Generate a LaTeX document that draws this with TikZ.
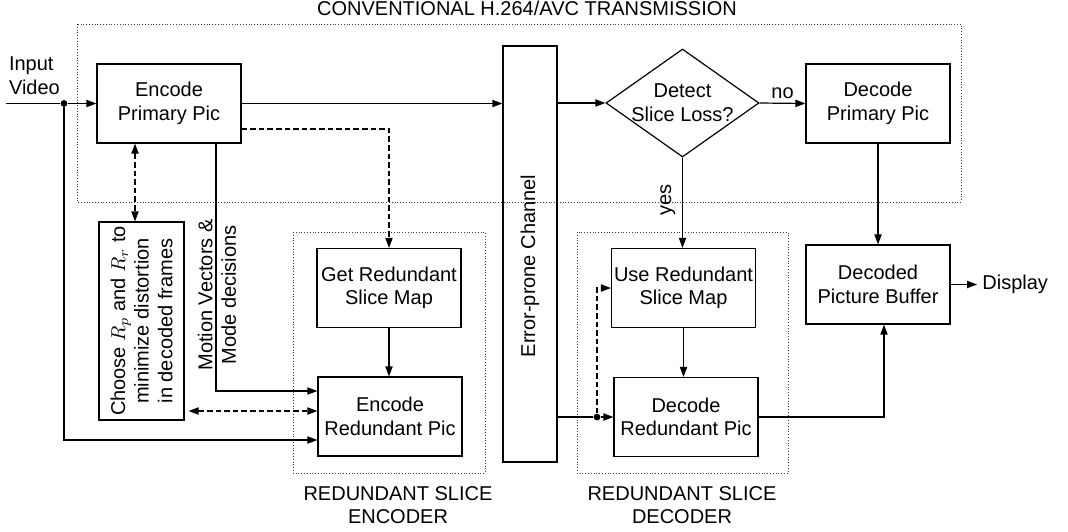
\documentclass[tikz,border=0pt]{standalone}
\usepackage{fontspec}
\setmainfont{Liberation Sans}
\usepackage{amsmath}
\usetikzlibrary{shapes.geometric,arrows.meta}

\tikzstyle{block}=[
	draw=black,
	shape=rectangle,
	line width=0.6pt,
	minimum width=72pt,
	minimum height=39.5pt,
	align=center,
	inner sep=0pt
]
\tikzstyle{decision}=[
	draw=black,
	shape=diamond,
	line width=0.6pt,
	minimum width=76.5pt,
	minimum height=54pt,
	align=center,
	inner sep=-4pt
]
\tikzstyle{junction}=[
	shape=circle,
	fill=black,
	minimum size=3.4pt,
	inner sep=0pt
]
\tikzstyle{group} = [draw=black!75,densely dotted,line width=0.4pt]
\tikzstyle{wire} = [draw,line width=0.6pt]
\tikzstyle{flow} = [wire,-{Triangle[length=5pt,width=3.6pt]}]
\tikzstyle{dashflow} = [flow,dash pattern=on 2.8pt off 1.5pt]
\tikzstyle{dashboth} = [dashflow,{Triangle[length=5pt,width=3.6pt]}-{Triangle[length=5pt,width=3.6pt]}]

\begin{document}
\begin{tikzpicture}[x=0.5pt,y=-0.5pt,font=\fontsize{10}{11.8}\selectfont]

	\useasboundingbox (0,0) rectangle (1068,531);

	% dotted groups
	\draw[group] (77,24) rectangle (961,202);
	\draw[group] (293,232) rectangle (485,473);
	\draw[group] (577,232) rectangle (788,473);
	\node[anchor=base] (conv) at (527,15) {CONVENTIONAL H.264/AVC TRANSMISSION};
	\node[align=center] (rsenc) at (398,505) {REDUNDANT SLICE\\ENCODER};
	\node[align=center] (rsdec) at (682,505) {REDUNDANT SLICE\\DECODER};

	% blocks
	\node[block]	(EncPri)	at (169,103.5)	{Encode\\Primary Pic};
	\node[block]	(GetMap)	at (389,288)	{Get Redundant\\Slice Map};
	\node[block]	(EncRed)	at (390,416.5)	{Encode\\Redundant Pic};
	\node[block,rotate=90,minimum width=99pt,minimum height=42.5pt]	(Choose)	at (141.5,321)
		{Choose $R_p$ and $R_r$ to\\minimize distortion\\in decoded frames};
	\node[block,rotate=90,minimum width=208pt,minimum height=27pt]	(Chan)	at (530,254)	{};
	\node[rotate=90]	(chanlbl)	at (530,266)	{Error-prone Channel};
	\node[decision]	(Detect)	at (682.5,103)	{Detect\\Slice Loss?};
	\node[block]	(DecPri)	at (878,103.5)	{Decode\\Primary Pic};
	\node[block]	(UseMap)	at (683.5,288)	{Use Redundant\\Slice Map};
	\node[block]	(DecRed)	at (686,417)	{Decode\\Redundant Pic};
	\node[block]	(DPB)	at (878,284.5)	{Decoded\\Picture Buffer};

	\node[anchor=west,align=left]	(inlbl)	at (2,76)	{Input\\Video};
	\node[anchor=west,inner sep=2.5pt]	(Disp)	at (977,284.5)	{Display};
	\node[rotate=90,align=center]	(mvlbl)	at (217,295)	{Motion Vectors \&\\Mode decisions};
	\coordinate	(in)	at (6,103.5);
	\node[junction]	(split)	at (64,103.5)	{};
	\node[junction]	(split2)	at (597,417)	{};
	\coordinate	(mv)	at ([xshift=23.5pt]EncPri.south);
	\coordinate	(rp)	at ([xshift=-17pt]EncPri.south);
	\coordinate	(rd)	at ([yshift=2.75pt]EncRed.west);

	% encoder side
	\path[wire] (in) -- (split);
	\path[flow] (split) -- (EncPri.west);
	\path[flow] (split) |- ([yshift=-11.75pt]EncRed.west);
	\path[flow] (EncPri.east) -- (EncPri.east -| Chan.north);
	\path[dashflow] ([yshift=-12.75pt]EncPri.east) -| (GetMap.north);
	\path[flow] (GetMap.south) -- (GetMap.south |- EncRed.north);
	\path[flow] (mv) |- ([yshift=12.75pt]EncRed.west);
	\path[dashboth] (rp) -- (rp |- Choose.east);
	\path[dashboth] ([xshift=2pt]rd -| Choose.south) -- (rd);

	% decoder side
	\path[flow] (Detect.west -| Chan.south) -- (Detect.west);
	\path[flow] (Detect.east) -- node[above,inner sep=2pt] (no) {no} (DecPri.west);
	\path[flow] (Detect.south) -- node[rotate=90,above,pos=0.47] (yes) {yes} (Detect.south |- UseMap.north);
	\path[flow] (DecPri.south) -- (DecPri.south |- DPB.north);
	\path[flow] (UseMap.south) -- (UseMap.south |- DecRed.north);
	\path[wire] (split2 -| Chan.south) -- (split2);
	\path[flow] (split2) -- (DecRed.west);
	\path[dashflow] (split2) |- (UseMap.west);
	\path[flow] (DecRed.east) -| ([xshift=3pt]DPB.south);
	\path[flow] (DPB.east) -- (Disp.west);

\end{tikzpicture}
\end{document}
